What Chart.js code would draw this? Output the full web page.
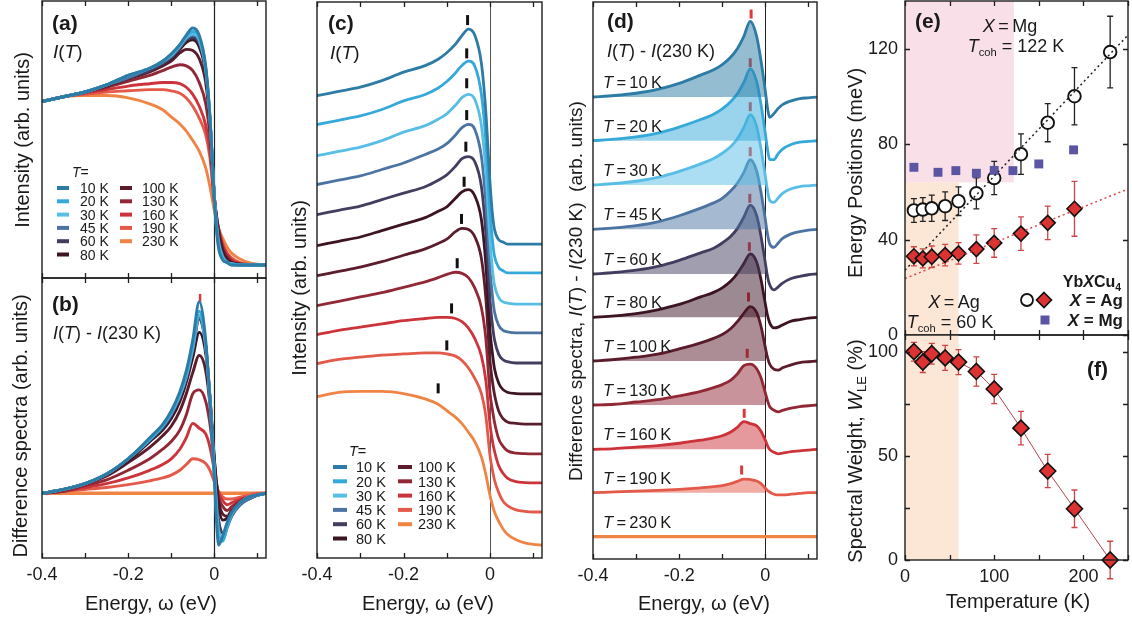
<!DOCTYPE html>
<html><head><meta charset="utf-8">
<title>YbXCu4 photoemission spectra</title>
<script src="https://cdn.jsdelivr.net/npm/chart.js@4.4.1/dist/chart.umd.min.js"></script>
<style>
html,body{margin:0;padding:0;background:#fff;}
#wrap{position:relative;width:1132px;height:619px;overflow:hidden;background:#fff;}
#wrap canvas{position:absolute;left:0;top:0;}
</style></head>
<body><div id="wrap">
<canvas id="pa" width="1132" height="619"></canvas>
<canvas id="pb" width="1132" height="619"></canvas>
<canvas id="pc" width="1132" height="619"></canvas>
<canvas id="pd" width="1132" height="619"></canvas>
<canvas id="pe" width="1132" height="619"></canvas>
<canvas id="pf" width="1132" height="619"></canvas>
</div>
<script>
// ================= DATA =================
const energies = [-0.40,-0.35,-0.30,-0.25,-0.20,-0.15,-0.12,-0.10,-0.08,-0.065,-0.05,-0.035,-0.02,-0.01,0.00,0.005,0.01,0.02,0.03,0.04,0.06,0.08,0.10,0.12];
const tempLabels = ['10 K','20 K','30 K','45 K','60 K','80 K','100 K','130 K','160 K','190 K','230 K'];
const energyTicks = [-0.4,-0.3,-0.2,-0.1,0,0.1];
const energyTickLabels = ['-0.4','','-0.2','','0',''];
const fermiEnergy = 0;

// I(T) spectra, normalised (10 K peak = 1)
const int10K  = [0.69,0.71,0.73,0.76,0.80,0.83,0.86,0.89,0.93,0.97,1.00,0.97,0.84,0.62,0.28,0.15,0.07,0.02,0.01,0.00,0.00,0.00,0.00,0.00];
const int20K  = [0.69,0.71,0.73,0.76,0.80,0.83,0.86,0.89,0.93,0.965,0.985,0.96,0.83,0.62,0.28,0.16,0.08,0.025,0.01,0.00,0.00,0.00,0.00,0.00];
const int30K  = [0.69,0.71,0.73,0.76,0.80,0.83,0.86,0.885,0.925,0.96,0.975,0.95,0.83,0.62,0.29,0.17,0.09,0.03,0.01,0.005,0.00,0.00,0.00,0.00];
const int45K  = [0.69,0.71,0.73,0.76,0.79,0.83,0.855,0.88,0.92,0.955,0.97,0.945,0.82,0.61,0.29,0.18,0.10,0.035,0.012,0.005,0.00,0.00,0.00,0.00];
const int60K  = [0.69,0.71,0.73,0.76,0.79,0.82,0.85,0.875,0.915,0.95,0.96,0.935,0.82,0.61,0.29,0.185,0.11,0.04,0.015,0.006,0.00,0.00,0.00,0.00];
const int80K  = [0.69,0.71,0.73,0.76,0.79,0.82,0.85,0.87,0.91,0.94,0.95,0.92,0.81,0.61,0.29,0.195,0.12,0.05,0.02,0.008,0.002,0.00,0.00,0.00];
const int100K = [0.69,0.71,0.73,0.755,0.785,0.815,0.84,0.86,0.895,0.91,0.905,0.87,0.77,0.59,0.29,0.205,0.14,0.06,0.025,0.01,0.003,0.00,0.00,0.00];
const int130K = [0.69,0.71,0.73,0.75,0.775,0.80,0.82,0.835,0.845,0.84,0.82,0.77,0.68,0.54,0.28,0.21,0.15,0.07,0.035,0.015,0.004,0.001,0.00,0.00];
const int160K = [0.69,0.71,0.725,0.74,0.755,0.765,0.77,0.77,0.765,0.75,0.72,0.67,0.59,0.48,0.27,0.20,0.15,0.08,0.045,0.022,0.006,0.002,0.00,0.00];
const int190K = [0.69,0.71,0.72,0.73,0.735,0.74,0.74,0.735,0.725,0.705,0.67,0.62,0.55,0.45,0.26,0.20,0.15,0.09,0.05,0.03,0.01,0.003,0.00,0.00];
const int230K = [0.69,0.71,0.715,0.715,0.705,0.68,0.655,0.625,0.595,0.565,0.525,0.48,0.41,0.33,0.23,0.19,0.155,0.11,0.075,0.05,0.025,0.01,0.003,0.00];

// Difference spectra I(T) - I(230 K), normalised (10 K peak = 1)
const diff10K  = [0.00,0.02,0.05,0.10,0.18,0.29,0.36,0.43,0.53,0.64,0.80,1.00,0.80,0.48,0.08,-0.14,-0.27,-0.22,-0.15,-0.10,-0.05,-0.02,-0.01,0.00];
const diff20K  = [0.00,0.02,0.05,0.10,0.18,0.28,0.35,0.42,0.52,0.62,0.77,0.95,0.78,0.48,0.10,-0.11,-0.25,-0.25,-0.17,-0.11,-0.05,-0.02,-0.01,0.00];
const diff30K  = [0.00,0.02,0.05,0.10,0.18,0.28,0.35,0.42,0.51,0.61,0.76,0.93,0.77,0.48,0.12,-0.07,-0.20,-0.23,-0.17,-0.11,-0.05,-0.02,-0.01,0.00];
const diff45K  = [0.00,0.02,0.05,0.10,0.18,0.28,0.35,0.41,0.51,0.61,0.75,0.92,0.77,0.49,0.13,-0.06,-0.19,-0.24,-0.18,-0.12,-0.06,-0.03,-0.01,0.00];
const diff60K  = [0.00,0.02,0.05,0.10,0.18,0.28,0.34,0.41,0.50,0.60,0.75,0.91,0.77,0.50,0.15,-0.03,-0.14,-0.21,-0.17,-0.12,-0.06,-0.03,-0.01,0.00];
const diff80K  = [0.00,0.02,0.05,0.10,0.17,0.27,0.33,0.39,0.48,0.58,0.71,0.84,0.73,0.50,0.18,0.03,-0.07,-0.14,-0.13,-0.10,-0.05,-0.03,-0.01,0.00];
const diff100K = [0.00,0.02,0.05,0.09,0.16,0.24,0.30,0.35,0.43,0.52,0.63,0.72,0.64,0.46,0.18,0.05,-0.04,-0.11,-0.12,-0.09,-0.05,-0.02,-0.01,0.00];
const diff130K = [0.00,0.01,0.04,0.07,0.12,0.18,0.23,0.27,0.33,0.41,0.52,0.54,0.48,0.36,0.16,0.06,-0.02,-0.07,-0.09,-0.07,-0.04,-0.02,-0.01,0.00];
const diff160K = [0.00,0.01,0.03,0.05,0.08,0.12,0.15,0.18,0.23,0.29,0.365,0.34,0.31,0.24,0.12,0.05,0.00,-0.04,-0.06,-0.05,-0.03,-0.02,-0.01,0.00];
const diff190K = [0.00,0.01,0.02,0.03,0.045,0.065,0.08,0.095,0.12,0.15,0.18,0.175,0.155,0.12,0.06,0.03,0.01,-0.02,-0.03,-0.03,-0.02,-0.01,0.00,0.00];
const diff230K = [0,0,0,0,0,0,0,0,0,0,0,0,0,0,0,0,0,0,0,0,0,0,0,0];

// peak markers
const peakMarkC_E = [-0.052,-0.054,-0.054,-0.054,-0.056,-0.060,-0.066,-0.076,-0.089,-0.100,-0.120];
const peakMarkC_I = [1.042,1.021,1.027,1.013,1.006,0.987,0.954,0.887,0.812,0.775,0.729];
const peakMarkD_E = [-0.033,-0.035,-0.035,-0.035,-0.036,-0.037,-0.039,-0.042,-0.049,-0.055];
const peakMarkD_D = [1.098,1.032,1.036,1.027,1.001,0.934,0.847,0.684,0.476,0.300];
const peakMarkB_E = [-0.033];
const peakMarkB_D = [1.02];

// (e) energy positions and (f) spectral weight
const agTemps      = [10,20,30,45,60,80,100,130,160,190,230];
const agCircleE    = [52.2,52.6,53.1,54.0,56.1,59.4,65.8,75.8,89.0,100.1,118.6];
const agCircleErr  = [5,5,5.5,6,6,6.5,7,8.5,8,12,15];
const agDiamondT   = [10,20,30,45,60,80,100,130,160,190];
const agDiamondE   = [33.0,32.1,32.8,33.5,34.2,36.0,38.6,42.5,47.0,52.9];
const agDiamondErr = [4,4,4.5,4.5,4.5,6,6,7,7,11.5];
const mgTemps      = [10,37,57,80,100,121,150,189];
const mgSquareE    = [70.3,68.2,68.9,67.8,69.0,68.9,71.7,77.6];
const circleFit    = [27.2,0.394];   // intercept (meV), slope (meV/K)
const diamondFit   = [23.7,0.15];
const spectralWeight    = [100,95,99,97,95,90.5,82.1,63.3,42.7,24.6,0];
const spectralWeightErr = [4.5,5,5,6,6,7,7,8,8,9,9];
const tcohAg = 60, tcohMg = 122, shadeSplitE = 64;
const tempTicks = [0,50,100,150,200,250];
const tempTickLabels = ['0','','100','','200',''];
const energyPosTicks = [0,40,80,120];
const energyPosTickLabels = ['0','40','80','120'];
const weightTicks = [0,25,50,75,100];
const weightTickLabels = ['0','','50','','100'];

// ================= STYLE / LAYOUT =================
const W = 1132, H = 619, AXW = 60, AXH = 40;
const FONT = '"Liberation Sans", Arial, Helvetica, sans-serif';
Chart.defaults.font.family = FONT;
Chart.defaults.color = '#1a1a1a';
const tempColors = ['#2c7ca6','#35a9da','#58bee6','#4b74a2','#433e60','#3c1424','#5b1c2c','#922836','#cd333a','#e35a4a','#f08445'];
const offsetsC = [1.460,1.326,1.181,1.047,0.907,0.763,0.623,0.484,0.349,0.214,0.060];
const offsetsD = [6.111,5.533,4.947,4.361,3.770,3.197,2.619,2.037,1.451,0.877,0.295];
const intensities = [int10K,int20K,int30K,int45K,int60K,int80K,int100K,int130K,int160K,int190K,int230K];
const diffs = [diff10K,diff20K,diff30K,diff45K,diff60K,diff80K,diff100K,diff130K,diff160K,diff190K,diff230K];

function hexA(hex,a){const n=parseInt(hex.slice(1),16);return `rgba(${n>>16&255},${n>>8&255},${n&255},${a})`;}
function pts(xs,ys,off=0,keep){const o=[];for(let i=0;i<xs.length;i++){if(keep&&!keep(xs[i]))continue;o.push({x:xs[i],y:ys[i]+off});}return o;}
function R(t,s='',k=1,dy=0){return {t,s,k,dy};}

function drawRich(ctx,it){
  const size=it.size||18;
  ctx.save();
  ctx.translate(it.x,it.y);
  if(it.rot) ctx.rotate(it.rot*Math.PI/180);
  const f=p=>(p.s?p.s+' ':'')+(size*p.k).toFixed(1)+'px '+FONT;
  let w=0;
  for(const p of it.parts){ctx.font=f(p);w+=ctx.measureText(p.t).width;}
  let x=it.align==='center'?-w/2:it.align==='right'?-w:0;
  ctx.fillStyle=it.color||'#1a1a1a';
  ctx.textBaseline='alphabetic';
  for(const p of it.parts){ctx.font=f(p);ctx.fillText(p.t,x,0.36*size+p.dy);x+=ctx.measureText(p.t).width;}
  ctx.restore();
}
function drawTempLegend(ctx,L){
  drawRich(ctx,{x:L.hx,y:L.hy,size:L.size,parts:[R('T','italic'),R('=')]});
  tempLabels.forEach((lab,i)=>{
    const c=i<6?L.cols[0]:L.cols[1]; const row=i<6?i:i-6; const y=L.y0+row*L.dy;
    ctx.strokeStyle=tempColors[i]; ctx.lineWidth=4; ctx.lineCap='butt';
    ctx.beginPath(); ctx.moveTo(c.lx,y); ctx.lineTo(c.lx+L.len,y); ctx.stroke();
    drawRich(ctx,{x:c.tx,y:y,size:L.size,parts:[R(lab)]});
  });
}
function drawSymbol(ctx,s){
  ctx.save(); ctx.beginPath();
  if(s.shape==='circle'){ctx.arc(s.x,s.y,s.r,0,2*Math.PI);}
  else if(s.shape==='diamond'){ctx.moveTo(s.x,s.y-s.r);ctx.lineTo(s.x+s.r,s.y);ctx.lineTo(s.x,s.y+s.r);ctx.lineTo(s.x-s.r,s.y);ctx.closePath();}
  else {ctx.rect(s.x-s.r,s.y-s.r,2*s.r,2*s.r);}
  ctx.fillStyle=s.fill; ctx.fill();
  if(s.lw){ctx.lineWidth=s.lw;ctx.strokeStyle=s.stroke;ctx.stroke();}
  ctx.restore();
}

const deco = {};
const decoPlugin = {
  id:'deco',
  beforeDatasetsDraw(chart){
    const d=deco[chart.canvas.id]; if(!d) return;
    const ctx=chart.ctx, xs=chart.scales.x, ys=chart.scales.y, a=chart.chartArea;
    ctx.save();
    (d.shades||[]).forEach(s=>{
      const x0=xs.getPixelForValue(s.x0), x1=xs.getPixelForValue(s.x1);
      const y0=ys.getPixelForValue(s.y0), y1=ys.getPixelForValue(s.y1);
      ctx.fillStyle=s.color;
      ctx.fillRect(Math.min(x0,x1),Math.min(y0,y1),Math.abs(x1-x0),Math.abs(y1-y0));
    });
    if(d.zeroLine){
      const x=Math.round(xs.getPixelForValue(d.zeroLine.x))+0.5;
      ctx.strokeStyle=d.zeroLine.color; ctx.lineWidth=d.zeroLine.width;
      ctx.beginPath(); ctx.moveTo(x,a.top); ctx.lineTo(x,a.bottom); ctx.stroke();
    }
    chart.data.datasets.forEach(ds=>{
      if(!ds.errorBars) return;
      ctx.strokeStyle=ds.errorColor; ctx.lineWidth=1.3;
      ds.data.forEach((p,i)=>{
        const e=ds.errorBars[i], x=xs.getPixelForValue(p.x);
        const yt=ys.getPixelForValue(p.y+e), yb=ys.getPixelForValue(p.y-e);
        ctx.beginPath(); ctx.moveTo(x,yt); ctx.lineTo(x,yb);
        ctx.moveTo(x-3,yt); ctx.lineTo(x+3,yt); ctx.moveTo(x-3,yb); ctx.lineTo(x+3,yb);
        ctx.stroke();
      });
    });
    ctx.restore();
  },
  afterDatasetsDraw(chart){
    const d=deco[chart.canvas.id]; if(!d) return;
    const ctx=chart.ctx, xs=chart.scales.x, ys=chart.scales.y, a=chart.chartArea;
    ctx.save();
    ctx.strokeStyle='#1e1e1e'; ctx.lineWidth=1.4;
    ctx.strokeRect(a.left,a.top,a.right-a.left,a.bottom-a.top);
    const L=d.tickLen||5;
    ctx.beginPath();
    (d.xTicks||[]).forEach(v=>{const x=Math.round(xs.getPixelForValue(v))+0.5;ctx.moveTo(x,a.top);ctx.lineTo(x,a.top+L);ctx.moveTo(x,a.bottom);ctx.lineTo(x,a.bottom-L);});
    (d.yTicks||[]).forEach(v=>{const y=Math.round(ys.getPixelForValue(v))+0.5;ctx.moveTo(a.left,y);ctx.lineTo(a.left+L,y);ctx.moveTo(a.right,y);ctx.lineTo(a.right-L,y);});
    ctx.lineWidth=1.3; ctx.stroke();
    if(d.legend) drawTempLegend(ctx,d.legend);
    (d.symbols||[]).forEach(s=>drawSymbol(ctx,s));
    (d.texts||[]).forEach(t=>{const it=Object.assign({},t); if(t.yv!==undefined) it.y=ys.getPixelForValue(t.yv)+(t.ydy||0); drawRich(ctx,it);});
    ctx.restore();
  }
};

function axisOpts(range,ax,dir){
  const o={type:'linear',min:range[0],max:range[1],display:!!ax,grid:{display:false,drawTicks:false},border:{display:false}};
  if(ax){
    o.afterFit=s=>{ if(dir==='x') s.height=AXH; else s.width=AXW;
      s.paddingTop=0; s.paddingBottom=0; s.paddingLeft=0; s.paddingRight=0; };
    o.afterBuildTicks=s=>{s.ticks=ax.values.map(v=>({value:v}));};
    o.ticks={padding:ax.pad,font:{size:ax.size,family:FONT},color:'#1a1a1a',autoSkip:false,maxRotation:0,callback:(v,i)=>ax.labels[i]};
  }
  return o;
}
function makeChart(id,area,xr,yr,xAx,yAx,datasets){
  return new Chart(document.getElementById(id),{
    type:'line',
    data:{datasets},
    options:{
      responsive:false,animation:false,devicePixelRatio:1,events:[],
      layout:{autoPadding:false,padding:{left:area.l-(yAx?AXW:0),top:area.t,right:W-area.r,bottom:H-area.b-(xAx?AXH:0)}},
      plugins:{legend:{display:false},tooltip:{enabled:false}},
      elements:{point:{radius:0}},
      scales:{x:axisOpts(xr,xAx,'x'),y:axisOpts(yr,yAx,'y')}
    },
    plugins:[decoPlugin]
  });
}
const curve=(data,color,width)=>({data,borderColor:color,borderWidth:width,pointRadius:0,fill:false,cubicInterpolationMode:'monotone',tension:0.4,borderJoinStyle:'round',borderCapStyle:'round'});
const marks=(data,color,r,w)=>({data,showLine:false,pointStyle:'line',rotation:90,pointRadius:r,pointBorderWidth:w,pointBorderColor:color,pointBackgroundColor:color,clip:false});
const eAxis={values:energyTicks,labels:energyTickLabels,pad:6,size:18};
const xTitle=(x)=>({x,y:603,align:'center',size:20,parts:[R('Energy, ω (eV)')]});
const ITparts=[R('I','italic'),R('('),R('T','italic'),R(')')];
const diffParts=[R('I','italic'),R('('),R('T','italic'),R(') - '),R('I','italic'),R('(230 K)')];

// ---------- (a) ----------
deco.pa={xTicks:energyTicks,zeroLine:{x:fermiEnergy,color:'#222',width:1.2},
  legend:{hx:72,hy:172,size:14,cols:[{lx:57,tx:80},{lx:120,tx:142}],y0:188,dy:13.3,len:12},
  texts:[{x:52,y:22,size:21,parts:[R('(a)','bold')]},
         {x:53,y:51,size:19,parts:ITparts},
         {x:22,y:140,rot:-90,align:'center',size:20,parts:[R('Intensity (arb. units)')]}]};
makeChart('pa',{l:42,t:1,r:266,b:278},[-0.4,0.12],[-0.055,1.114],null,null,
  intensities.map((s,i)=>curve(pts(energies,s),tempColors[i],2.9)));

// ---------- (b) ----------
deco.pb={xTicks:energyTicks,zeroLine:{x:fermiEnergy,color:'#222',width:1.2},
  texts:[{x:52,y:303,size:21,parts:[R('(b)','bold')]},
         {x:53,y:333,size:18,parts:diffParts},
         {x:20,y:426,rot:-90,align:'center',size:20,parts:[R('Difference spectra (arb. units)')]},
         xTitle(151)]};
makeChart('pb',{l:42,t:278,r:266,b:558},[-0.4,0.12],[-0.338,1.124],eAxis,null,
  diffs.map((s,i)=>curve(pts(energies,s),tempColors[i],i===10?3.4:2.9))
  .concat([marks(pts(peakMarkB_E,peakMarkB_D),'#e0393b',4,2.5)]));

// ---------- (c) ----------
deco.pc={xTicks:energyTicks,zeroLine:{x:fermiEnergy,color:'#555',width:1},
  legend:{hx:349,hy:451,size:14.5,cols:[{lx:333,tx:356},{lx:398,tx:418}],y0:467,dy:14.3,len:14},
  texts:[{x:328,y:22,size:21,parts:[R('(c)','bold')]},
         {x:330,y:52,size:19,parts:ITparts},
         {x:299,y:288,rot:-90,align:'center',size:20,parts:[R('Intensity (arb. units)')]},
         xTitle(428)]};
makeChart('pc',{l:317,t:2,r:542,b:558},[-0.4,0.12],[0,2.586],eAxis,null,
  intensities.map((s,i)=>curve(pts(energies,s,offsetsC[i]),tempColors[i],2.8))
  .concat([marks(peakMarkC_E.map((e,i)=>({x:e,y:peakMarkC_I[i]+offsetsC[i]})),'#111',5,3)]));

// ---------- (d) ----------
const dSets=[];
diffs.forEach((s,i)=>{
  if(i<10) dSets.push({data:pts(energies,s,offsetsD[i],e=>e<=0),borderWidth:0,borderColor:'rgba(0,0,0,0)',pointRadius:0,
    fill:{value:offsetsD[i]},backgroundColor:hexA(tempColors[i],0.5),cubicInterpolationMode:'monotone',tension:0.4});
  dSets.push(curve(pts(energies,s,offsetsD[i]),tempColors[i],i===10?3.2:2.8));
});
dSets.push(marks(peakMarkD_E.map((e,i)=>({x:e,y:peakMarkD_D[i]+offsetsD[i]})),'#e0393b',4.5,3));
deco.pd={xTicks:energyTicks,zeroLine:{x:fermiEnergy,color:'#222',width:1},
  texts:[{x:607,y:20,size:21,parts:[R('(d)','bold')]},
         {x:607,y:51,size:18,parts:diffParts},
         {x:575,y:291,rot:-90,align:'center',size:19,parts:[R('Difference spectra, '),R('I','italic'),R('('),R('T','italic'),R(') - '),R('I','italic'),R('(230 K)  (arb. units)')]},
         xTitle(704)]
   .concat(tempLabels.map((lab,i)=>({x:603,yv:offsetsD[i],ydy:-15,size:16.5,parts:[R('T','italic'),R('\u2009=\u2009'+lab.replace(' ','\u2009'))]})))};
makeChart('pd',{l:593,t:2,r:817,b:559},[-0.4,0.12],[0,7.368],eAxis,null,dSets);

// ---------- (e) ----------
const fitLine=(f,color)=>({data:[{x:tempTicks[0],y:f[0]+f[1]*tempTicks[0]},{x:tempTicks[tempTicks.length-1],y:f[0]+f[1]*tempTicks[tempTicks.length-1]}],
  borderColor:color,borderWidth:1.5,borderDash:[2,3],pointRadius:0,fill:false});
deco.pe={xTicks:tempTicks,yTicks:energyPosTicks,
  shades:[{x0:0,x1:tcohMg,y0:shadeSplitE,y1:140,color:'#f9e0e8'},{x0:0,x1:tcohAg,y0:0,y1:shadeSplitE,color:'#fce6d6'}],
  symbols:[{shape:'circle',x:1027,y:300,r:6,fill:'#fff',stroke:'#111',lw:1.8},
           {shape:'diamond',x:1044,y:300,r:7.5,fill:'#dc3232',stroke:'#111',lw:1.6},
           {shape:'square',x:1045,y:320,r:4.5,fill:'#5b55a3',lw:0}],
  texts:[{x:915,y:20,size:21,parts:[R('(e)','bold')]},
         {x:1010,y:26,size:18,align:'center',parts:[R('X','italic'),R('\u2009=\u2009Mg')]},
         {x:1016,y:46,size:18,align:'center',parts:[R('T','italic'),R('coh','',0.62,4),R(' = 122 K')]},
         {x:1121,y:281,size:16,align:'right',parts:[R('Yb','bold'),R('X','bold italic'),R('Cu','bold'),R('4','bold',0.65,4)]},
         {x:1123,y:300,size:17,align:'right',parts:[R('X','bold italic'),R(' = Ag','bold')]},
         {x:1123,y:320,size:17,align:'right',parts:[R('X','bold italic'),R(' = Mg','bold')]},
         {x:954,y:302,size:18,align:'center',parts:[R('X','italic'),R('\u2009=\u2009Ag')]},
         {x:950,y:322,size:18,align:'center',parts:[R('T','italic'),R('coh','',0.62,4),R(' = 60 K')]},
         {x:855,y:173,rot:-90,align:'center',size:20,parts:[R('Energy Positions (meV)')]}]};
makeChart('pe',{l:905,t:1,r:1128,b:335},[0,250],[0,140],null,
  {values:energyPosTicks,labels:energyPosTickLabels,pad:7,size:18},
  [fitLine(circleFit,'#222'),fitLine(diamondFit,'#dd4444'),
   {data:pts(mgTemps,mgSquareE),showLine:false,pointStyle:'rect',pointRadius:6.3,pointBackgroundColor:'#5b55a3',pointBorderColor:'#5b55a3',pointBorderWidth:0,clip:false},
   {data:pts(agDiamondT,agDiamondE),showLine:false,pointStyle:'rectRot',pointRadius:7.5,pointBackgroundColor:'#dc3232',pointBorderColor:'#111',pointBorderWidth:1.6,clip:false,errorBars:agDiamondErr,errorColor:'#d04545'},
   {data:pts(agTemps,agCircleE),showLine:false,pointStyle:'circle',pointRadius:6.3,pointBackgroundColor:'#fff',pointBorderColor:'#111',pointBorderWidth:1.9,clip:false,errorBars:agCircleErr,errorColor:'#222'}]);

// ---------- (f) ----------
deco.pf={xTicks:tempTicks,yTicks:weightTicks,
  shades:[{x0:0,x1:tcohAg,y0:0,y1:108,color:'#fce6d6'}],
  texts:[{x:1087,y:368,size:21,parts:[R('(f)','bold')]},
         {x:855,y:451,rot:-90,align:'center',size:20,parts:[R('Spectral Weight, '),R('W','italic'),R('LE','',0.65,4),R(' (%)')]},
         {x:1018,y:601,align:'center',size:20,parts:[R('Temperature (K)')]}]};
makeChart('pf',{l:905,t:335,r:1128,b:560},[0,250],[0,108],
  {values:tempTicks,labels:tempTickLabels,pad:6,size:18},
  {values:weightTicks,labels:weightTickLabels,pad:7,size:18},
  [{data:pts(agTemps,spectralWeight),borderColor:'#b8434a',borderWidth:1,tension:0,fill:false,
    pointStyle:'rectRot',pointRadius:8,pointBackgroundColor:'#dc3232',pointBorderColor:'#111',pointBorderWidth:1.6,clip:false,
    errorBars:spectralWeightErr,errorColor:'#cc4444'}]);
</script></body></html>
